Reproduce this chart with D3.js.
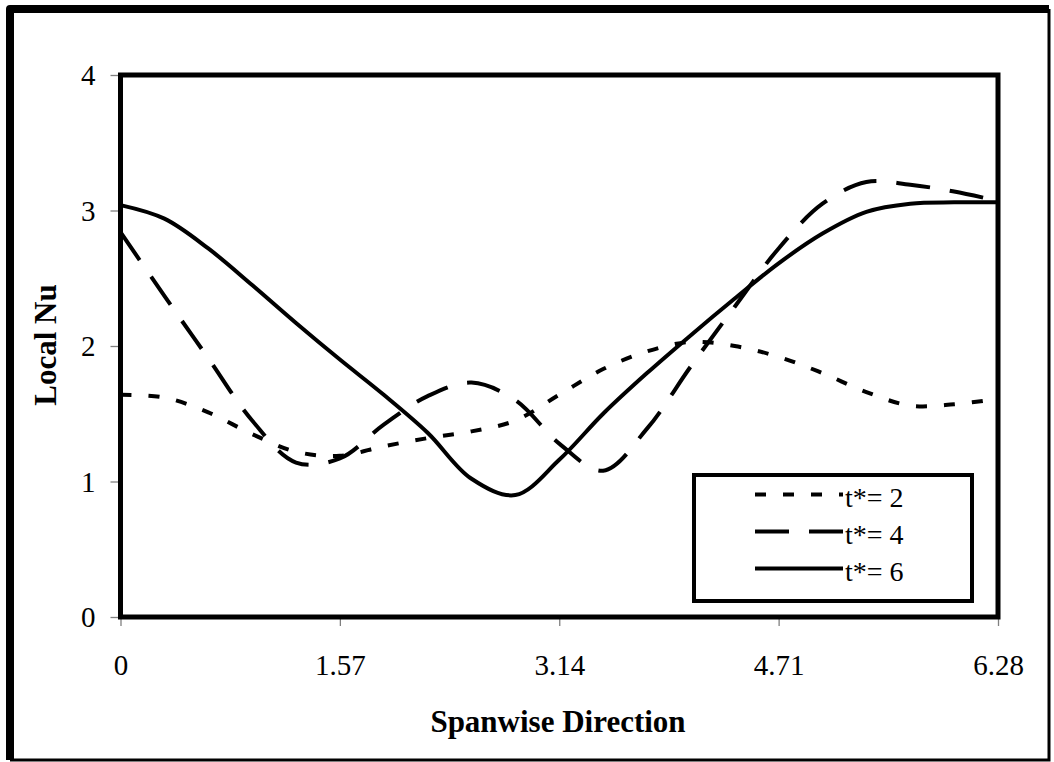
<!DOCTYPE html>
<html lang="en">
<head>
    <meta charset="UTF-8">
    <title>Local Nu</title>
    <script src="https://cdn.jsdelivr.net/npm/d3@7"></script>
    <style>
        body { margin: 0; background: #fff; }
        text { font-family: "Liberation Serif", "Times New Roman", serif; fill: #000; }
        .series { fill: none; stroke: #000; stroke-width: 4; }
    </style>
</head>
<body>
    <svg id="main" width="1054" height="762"></svg>
    <script>
        // spanwise positions (0 .. 2*pi)
        let xs = [0, 0.314, 0.628, 0.942, 1.256, 1.57, 1.884, 2.198, 2.512, 2.826, 3.14,
                  3.454, 3.768, 4.082, 4.396, 4.71, 5.024, 5.338, 5.652, 5.966, 6.28];
        // local Nu for each time
        let nu2 = [1.64, 1.62, 1.51, 1.35, 1.22, 1.19, 1.26, 1.32, 1.37, 1.45, 1.64,
                   1.83, 1.96, 2.03, 2.00, 1.92, 1.80, 1.66, 1.56, 1.57, 1.61];
        let nu4 = [2.84, 2.37, 1.91, 1.45, 1.14, 1.17, 1.42, 1.63, 1.73, 1.60, 1.28,
                   1.08, 1.39, 1.85, 2.29, 2.72, 3.05, 3.21, 3.19, 3.14, 3.07];
        let nu6 = [3.04, 2.94, 2.72, 2.45, 2.17, 1.90, 1.64, 1.36, 1.02, 0.90, 1.16,
                   1.50, 1.80, 2.08, 2.35, 2.61, 2.83, 2.99, 3.05, 3.06, 3.06];
        let seriesNames = ['t*= 2', 't*= 4', 't*= 6'];
        let xTicks = [0, 1.57, 3.14, 4.71, 6.28];
        let yTicks = [0, 1, 2, 3, 4];

        let dashes = ['11,17', '34,20', null];

        let svg = d3.select('svg#main');

        // outer chart border (heavier on left/top)
        svg.append('path').attr('d', 'M10,760 L10,9 L1049,9')
            .attr('fill', 'none').attr('stroke', '#000').attr('stroke-width', 8)
            .attr('stroke-linejoin', 'round');
        svg.append('path').attr('d', 'M1049,9 L1049,760 L10,760')
            .attr('fill', 'none').attr('stroke', '#000').attr('stroke-width', 3);

        let xScale = d3.scaleLinear().domain([0, 6.28]).range([120.5, 998]);
        let yScale = d3.scaleLinear().domain([0, 4]).range([617, 75]);

        // axes (gray ticks, labels)
        let yAxis = svg.append('g').attr('transform', 'translate(120.5,0)')
            .call(d3.axisLeft(yScale).tickValues(yTicks).tickSize(10).tickPadding(15)
                .tickFormat(d3.format('d')));
        let xAxis = svg.append('g').attr('transform', 'translate(0,617)')
            .call(d3.axisBottom(xScale).tickValues(xTicks).tickSize(9).tickPadding(0)
                .tickFormat(function(d){ return d === 0 ? '0' : d.toFixed(2); }));

        [xAxis, yAxis].forEach(function(a){
            a.select('.domain').remove();
            a.selectAll('.tick line').attr('stroke', '#808080').attr('stroke-width', 1.3);
            a.selectAll('.tick text').style('font-size', '29px')
                .style('font-family', '"Liberation Serif", "Times New Roman", serif')
                .attr('fill', '#000');
        });
        yAxis.selectAll('.tick text').attr('dy', '0.34em');
        xAxis.selectAll('.tick text').attr('y', 58).attr('dy', 0);

        // series lines
        let allSeries = [nu2, nu4, nu6];
        let line = d3.line()
            .x(function(d){ return xScale(d[0]); })
            .y(function(d){ return yScale(d[1]); })
            .curve(d3.curveCatmullRom);

        svg.selectAll('path.series')
            .data(allSeries)
            .enter()
            .append('path')
            .attr('class', 'series')
            .attr('d', function(s){ return line(xs.map(function(x, i){ return [x, s[i]]; })); })
            .attr('stroke-dasharray', function(d, i){ return dashes[i]; });

        // plot frame
        svg.append('rect')
            .attr('x', xScale(0)).attr('y', yScale(4))
            .attr('width', xScale(6.28) - xScale(0))
            .attr('height', yScale(0) - yScale(4))
            .attr('fill', 'none').attr('stroke', '#000').attr('stroke-width', 5);

        // axis titles
        svg.append('text')
            .attr('x', 558).attr('y', 732)
            .attr('text-anchor', 'middle')
            .style('font-size', '31px').style('font-weight', 'bold')
            .text('Spanwise Direction');
        svg.append('text')
            .attr('transform', 'translate(56,345) rotate(-90)')
            .attr('text-anchor', 'middle')
            .style('font-size', '31px').style('font-weight', 'bold')
            .text('Local Nu');

        // legend
        let legend = svg.append('g');
        legend.append('rect')
            .attr('x', 694).attr('y', 475).attr('width', 278).attr('height', 126)
            .attr('fill', '#fff').attr('stroke', '#000').attr('stroke-width', 4);
        let rowY = [494.5, 531.5, 568.5];
        seriesNames.forEach(function(name, i){
            legend.append('line')
                .attr('x1', 755).attr('x2', 843)
                .attr('y1', rowY[i]).attr('y2', rowY[i])
                .attr('stroke', '#000').attr('stroke-width', 4)
                .attr('stroke-dasharray', dashes[i]);
            legend.append('text')
                .attr('x', 845).attr('y', rowY[i] + 12)
                .style('font-size', '28px')
                .text(name);
        });
    </script>
</body>
</html>
